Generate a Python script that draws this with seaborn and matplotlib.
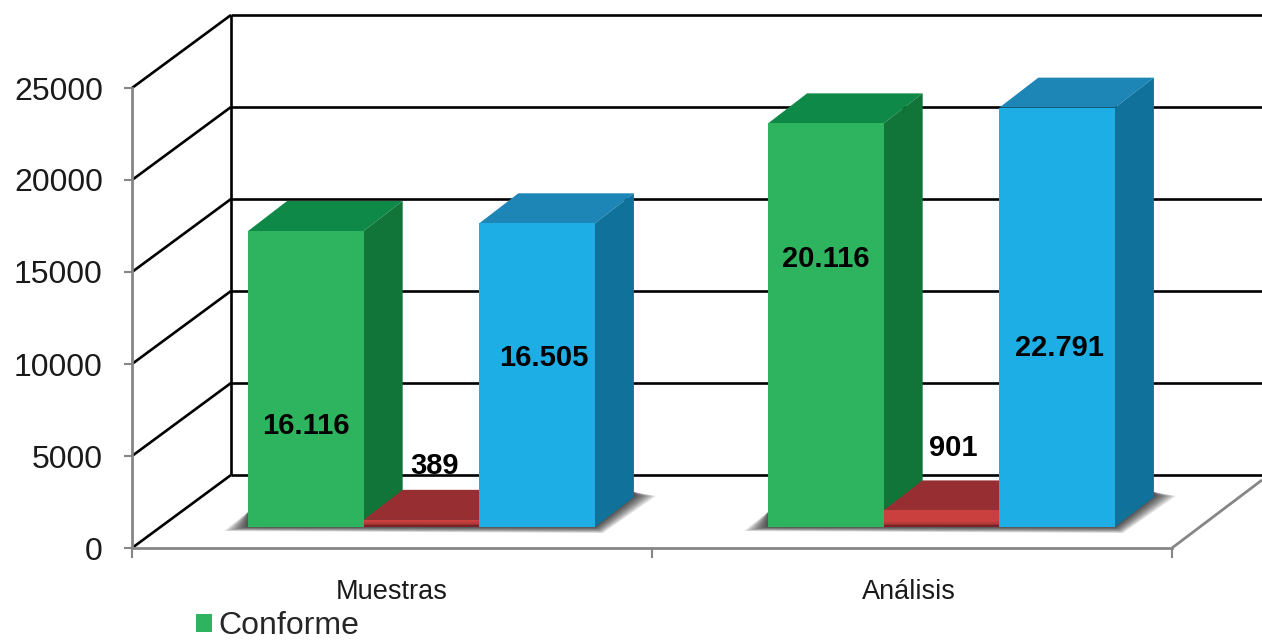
import matplotlib.pyplot as plt
import numpy as np
import pandas as pd
import seaborn as sns

categories = ["Muestras", "Análisis"]
series = ["Conforme", "No conforme", "Total"]
conforme = [16087, 21937]
no_conforme = [389, 901]
total = [16505, 22791]
bar_labels = [["16.116", "20.116"], ["389", "901"], ["16.505", "22.791"]]
y_ticks = [0, 5000, 10000, 15000, 20000, 25000]

front_colors = ["#2EB35F", "#C9403F", "#1DAEE5"]
top_colors = ["#0F8948", "#972F32", "#1E86B7"]
side_colors = ["#117539", "#7E2628", "#10719B"]

# plot area in pixels, everything else is measured from it
LEFT, RIGHT, BOTTOM, TOP = 132, 1172, 548, 88
X_PX = 2 / (RIGHT - LEFT)
Y_PX = 25000 / (BOTTOM - TOP)
GREY = "#868686"

sns.set_style("white")
plt.rcParams["font.family"] = ["Liberation Sans", "DejaVu Sans"]

df = pd.DataFrame({
    "categoria": categories * 3,
    "serie": np.repeat(series, 2),
    "valor": conforme + no_conforme + total,
})

fig = plt.figure(figsize=(12.62, 6.40), dpi=100)
ax = fig.add_axes([LEFT / 1262, (640 - BOTTOM) / 640, (RIGHT - LEFT) / 1262, (BOTTOM - TOP) / 640])
ax.patch.set_alpha(0)

sns.barplot(data=df, x="categoria", y="valor", hue="serie", hue_order=series, order=categories,
            palette=front_colors, width=0.667, gap=0, saturation=1, legend=False, ax=ax, zorder=6)

ax.set_xlim(-0.5, 1.5)
ax.set_ylim(0, 25000)
ax.set_xlabel("")
ax.set_ylabel("")


def poly(points, color, zorder, alpha=1.0):
    xs = [p[0] for p in points]
    ys = [p[1] for p in points]
    ax.fill(xs, ys, color=color, lw=0, zorder=zorder, alpha=alpha, clip_on=False)


def line(xs, ys, color="black", lw=1.9, zorder=1):
    ax.plot(xs, ys, color=color, lw=lw, zorder=zorder, clip_on=False, solid_capstyle="butt")


# back wall and floor
back_x = -0.5 + 99 * X_PX
back_y = 73 * Y_PX
for t in y_ticks:
    line([-0.5, back_x], [t, t + back_y])
    line([back_x, 1.5 + 90 * X_PX], [t + back_y, t + back_y])
line([back_x, back_x], [back_y, 25000 + back_y])
line([1.5, 1.5 + 90 * X_PX], [0, 68 * Y_PX], color=GREY, lw=2, zorder=2)

# the bars stand on a floor a bit behind the front edge
lift = 21 * Y_PX
shift = 29.5 * X_PX
depth_x = 39 * X_PX
depth_y = 30 * Y_PX

for s, container in enumerate(ax.containers):
    for bar in container:
        bar.set_x(bar.get_x() + shift)
        bar.set_y(lift)
        bar.set_linewidth(0)
        x0, x1 = bar.get_x(), bar.get_x() + bar.get_width()
        y1 = lift + bar.get_height()
        # the red top hides the foot of the green side
        z = 5 if s == 1 else 4
        poly([(x0, y1), (x1, y1), (x1 + depth_x, y1 + depth_y), (x0 + depth_x, y1 + depth_y)], top_colors[s], z)
        poly([(x1, lift), (x1, y1), (x1 + depth_x, y1 + depth_y), (x1 + depth_x, lift + depth_y)], side_colors[s], z)

# darker foot on the red fronts
for bar in ax.containers[1]:
    x0, x1 = bar.get_x(), bar.get_x() + bar.get_width()
    for k, a in enumerate([0.12, 0.22, 0.35]):
        poly([(x0, lift), (x1, lift), (x1, lift + (3 - k) * 1.6 * Y_PX), (x0, lift + (3 - k) * 1.6 * Y_PX)],
             "#3A0F10", 7, alpha=a)

# soft shadow under each group of bars
for i in range(2):
    x0 = ax.containers[0][i].get_x()
    last = ax.containers[2][i]
    x1 = last.get_x() + last.get_width()
    for t in np.linspace(0, 1, 10):
        u = 1 - t
        poly([(x0 - 24 * u * X_PX, lift - 4 * u * Y_PX),
              (x1 + 8 * u * X_PX, lift - 6 * u * Y_PX),
              (x1 + (39 + 22 * u) * X_PX, lift + 31 * Y_PX),
              (x1 + 39 * X_PX, lift + 35 * Y_PX),
              (x0, lift + 15 * Y_PX)], "black", 3, alpha=0.11)

# value labels, the sizes of the bars do not always allow the centre
label_heights = [[6640, 15700], [4470, 5460], [10350, 10870]]
label_dx_px = [[0, 0], [13, 12], [7, 2]]
for s, container in enumerate(ax.containers):
    for i, bar in enumerate(container):
        ax.text(bar.get_x() + bar.get_width() / 2 + label_dx_px[s][i] * X_PX, label_heights[s][i], bar_labels[s][i],
                ha="center", va="center", fontsize=21, fontweight="bold", color="black", zorder=8)

# axes
for name in ["top", "right"]:
    ax.spines[name].set_visible(False)
for name in ["left", "bottom"]:
    ax.spines[name].set_color(GREY)
    ax.spines[name].set_linewidth(2)
    ax.spines[name].set_zorder(2)

ax.set_yticks(y_ticks)
ax.set_yticklabels([str(t) for t in y_ticks])
ax.tick_params(axis="y", left=True, length=6, width=1.5, color=GREY, pad=15, labelsize=23, labelcolor="#1a1a1a")
ax.set_xticks([-0.5, 0.5, 1.5])
ax.set_xticklabels([])
ax.set_xticks([0, 1 - 3 * X_PX], minor=True)
ax.set_xticklabels(categories, minor=True)
ax.tick_params(axis="x", which="major", bottom=True, length=7, width=1.5, color=GREY)
ax.tick_params(axis="x", which="minor", bottom=False, length=0, pad=22, labelsize=19.5, labelcolor="#1a1a1a")

ax.legend(handles=[ax.containers[0][0]], labels=["Conforme"], frameon=False, fontsize=23,
          loc="lower left", bbox_to_anchor=(196 / 1262, -0.002), bbox_transform=fig.transFigure,
          handlelength=0.5, handleheight=0.5, handletextpad=0.2, borderpad=0, borderaxespad=0)

fig.savefig("out.png", dpi=100, facecolor="white")
